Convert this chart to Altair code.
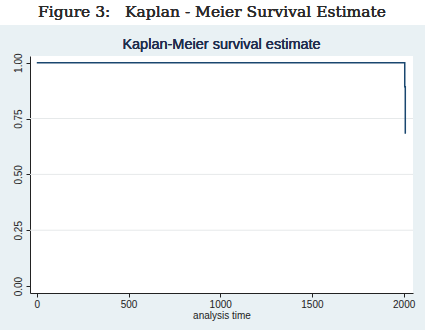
import altair as alt
import pandas as pd

# Kaplan-Meier step points (analysis time, survival)
times = [0, 2006, 2009]
survival = [1.0, 0.8925, 0.682]

y_ticks = [0.0, 0.25, 0.5, 0.75, 1.0]
x_ticks = [0, 500, 1000, 1500, 2000]
grid_vals = [0.25, 0.5, 0.75]

caption = "Figure 3:\u00a0\u00a0\u00a0Kaplan - Meier Survival Estimate"
title = "Kaplan-Meier survival estimate"

km = pd.DataFrame({"t": times, "s": survival})
grid = pd.DataFrame({"g": grid_vals})

W, H = 383, 237
PAD = {"left": 30, "top": 56, "right": 12, "bottom": 37}

xscale = alt.Scale(domain=[-37, 2051], nice=False, zero=False)
yscale = alt.Scale(domain=[-0.031, 1.03], nice=False, zero=False)

lbl = dict(labelFont="Liberation Sans", labelFontSize=10, labelColor="#222222",
           tickColor="#222222", domainColor="#222222", tickSize=4, domainWidth=1,
           titleFont="Liberation Sans", titleFontSize=10, titleFontWeight="normal",
           titleColor="#222222", grid=False)

gridlayer = alt.Chart(grid).mark_rule(color="#e6e9ea", strokeWidth=1).encode(
    y=alt.Y("g:Q", scale=yscale),
    x=alt.value(0), x2=alt.value(W),
)

line = alt.Chart(km).mark_line(interpolate="step-after", color="#1a476f", strokeWidth=1.5).encode(
    x=alt.X("t:Q", scale=xscale,
            axis=alt.Axis(values=x_ticks, format="d", title="analysis time", labelPadding=2,
                          titlePadding=1, **lbl)),
    y=alt.Y("s:Q", scale=yscale,
            axis=alt.Axis(values=y_ticks, format=".2f", title=None, labelAngle=270,
                          labelAlign="center", labelBaseline="bottom", labelPadding=3,
                          **lbl)),
)

# white strip behind the document caption, above the graph region
strip = alt.Chart(km).mark_rect(color="white").encode(
    x=alt.value(-PAD["left"]), x2=alt.value(W + PAD["right"]),
    y=alt.value(-PAD["top"]), y2=alt.value(25 - PAD["top"]),
)
cap = alt.Chart(km).mark_text(font="DejaVu Serif", fontSize=15.5, fontWeight="normal",
                              color="#2a2a2a", align="center", baseline="middle").encode(
    x=alt.value(212 - PAD["left"]), y=alt.value(12 - PAD["top"]),
    text=alt.value(caption),
)
ttl = alt.Chart(km).mark_text(font="Liberation Sans", fontSize=14.5, color="#1f2d4d",
                              align="center", baseline="middle").encode(
    x=alt.value(W / 2), y=alt.value(45 - PAD["top"]),
    text=alt.value(title),
)

chart = alt.layer(gridlayer, line, strip, cap, ttl).properties(
    width=W, height=H, padding=PAD, background="#e9f1f4",
    autosize=alt.AutoSizeParams(type="none"),
).configure_view(fill="white", stroke=None)

chart.save("out.html", embed_options={"renderer": "svg", "actions": False})
